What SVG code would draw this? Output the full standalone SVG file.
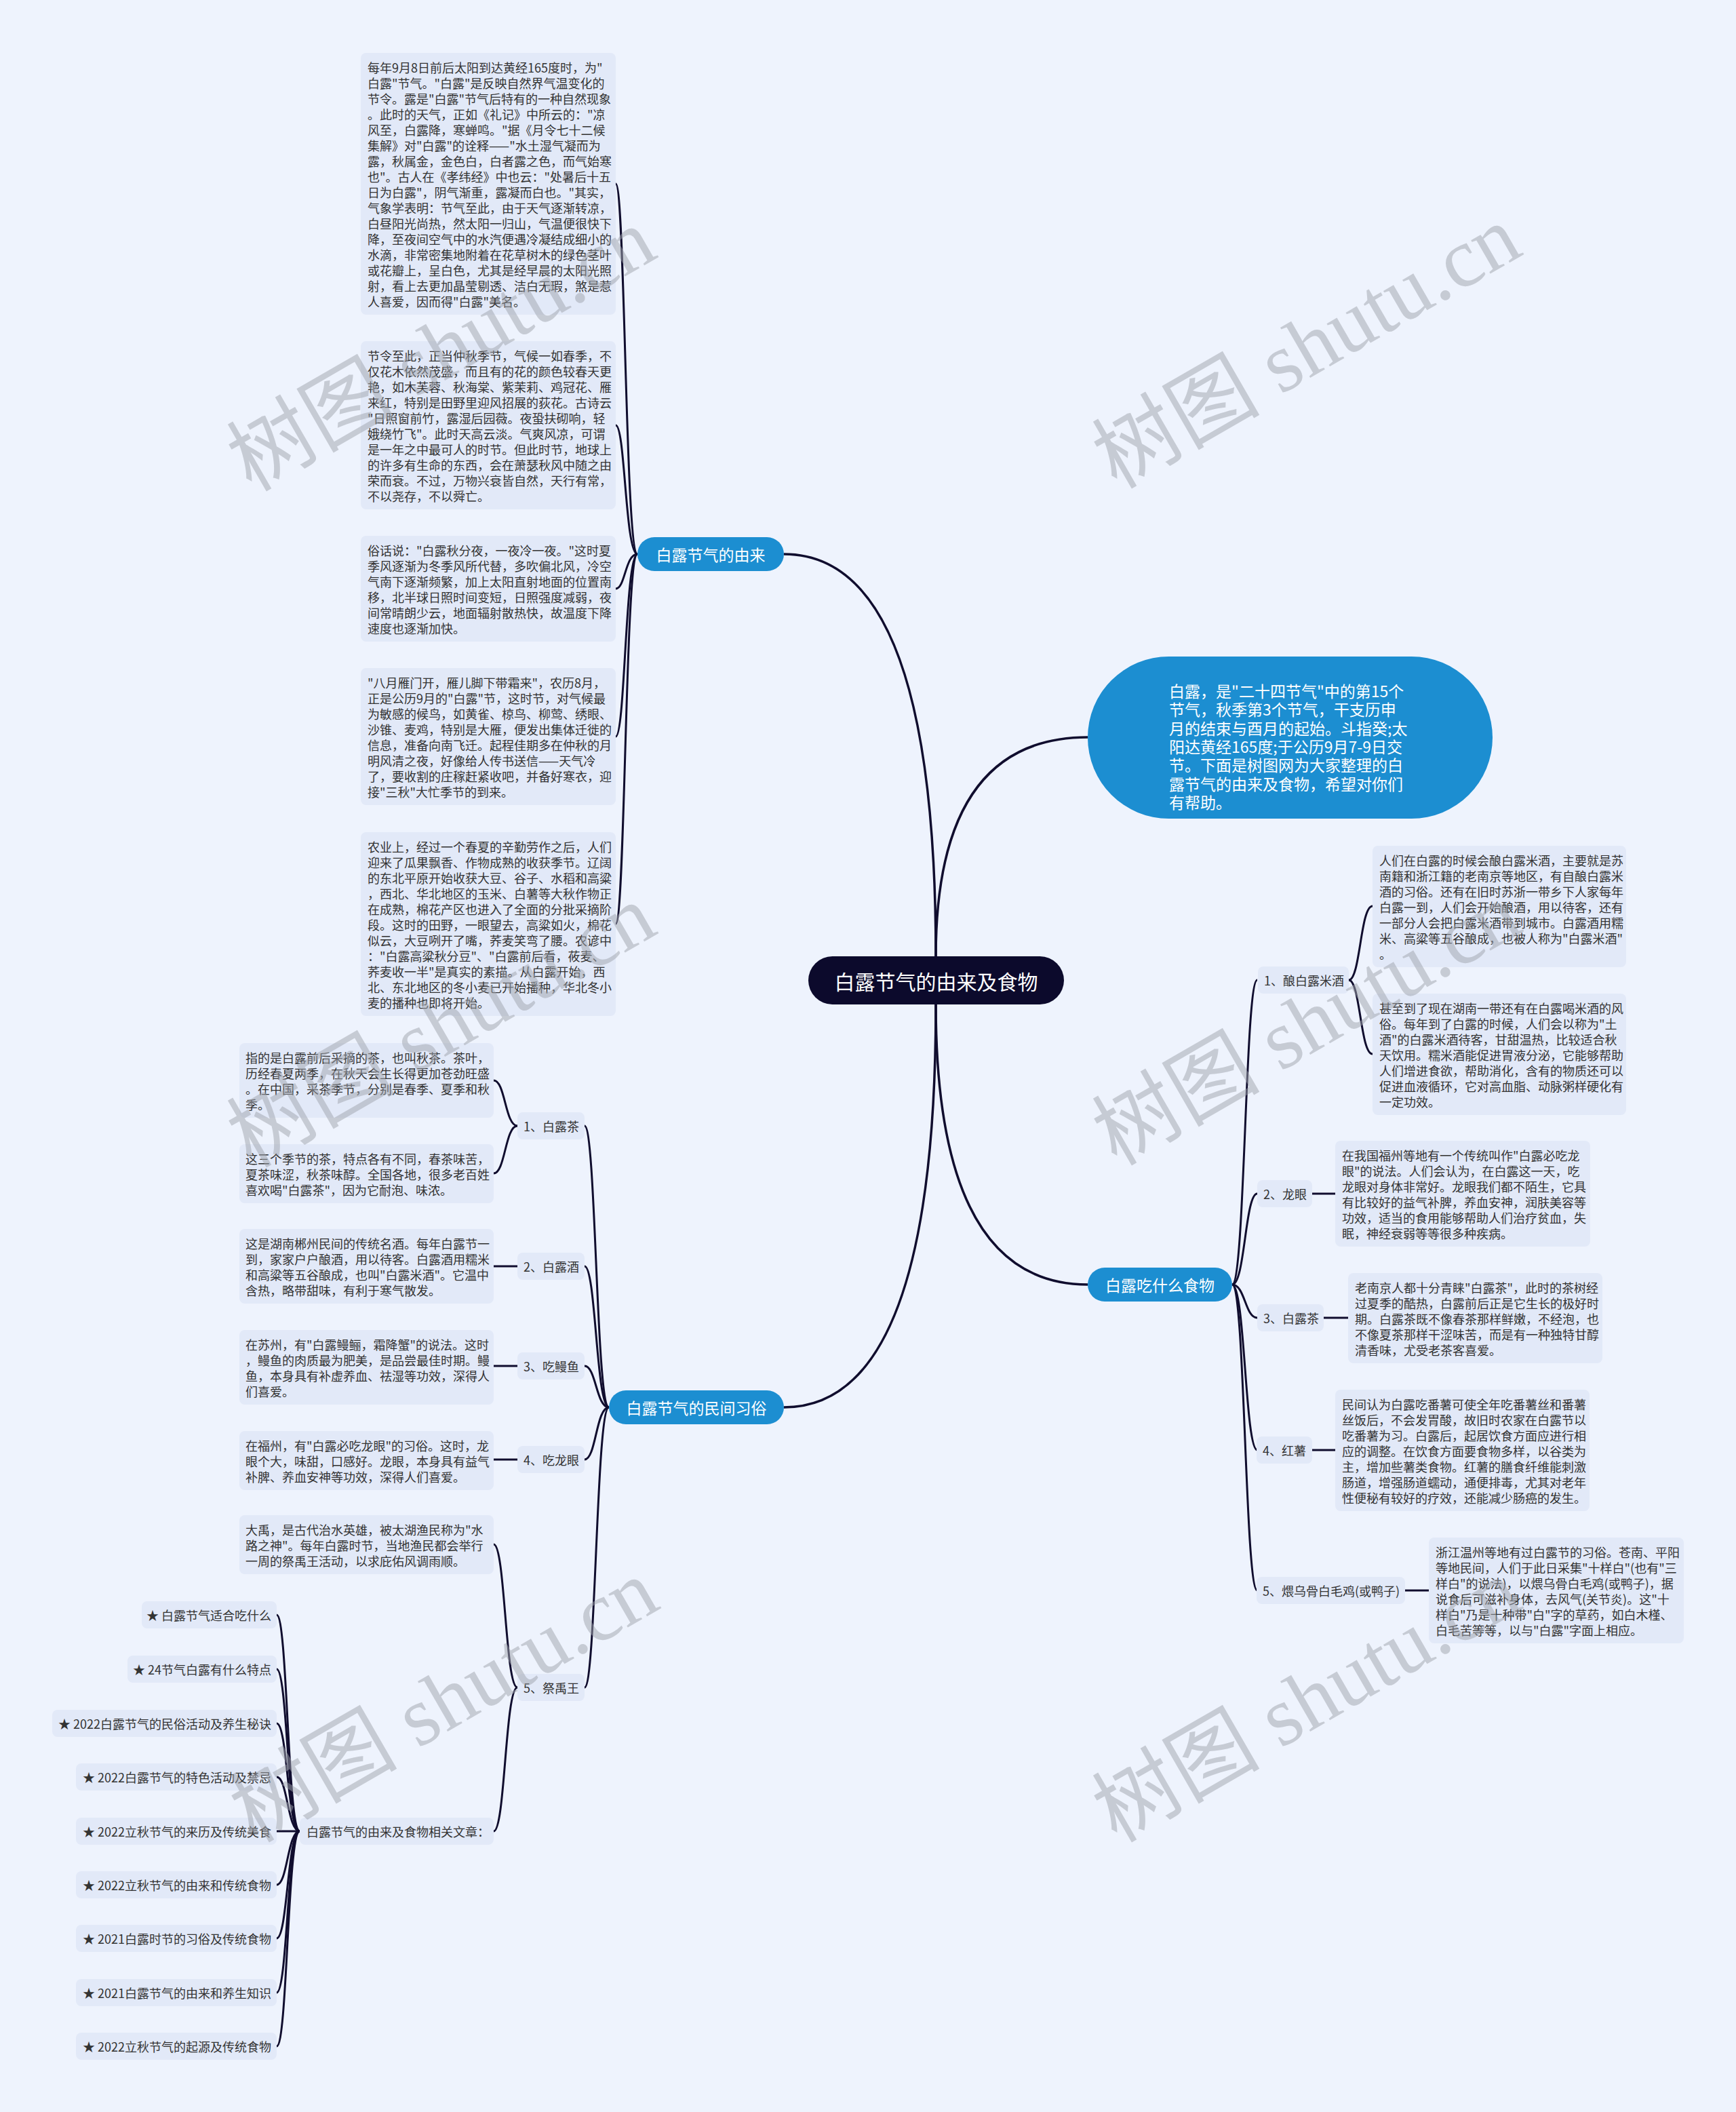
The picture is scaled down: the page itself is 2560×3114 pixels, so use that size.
<svg xmlns="http://www.w3.org/2000/svg" width="2560" height="3114" viewBox="0 0 2560 3114">
<style>
.bg{fill:#EEF3FD}
.bx{fill:#E2E9F8}
.t{font-family:"Noto Sans CJK SC","Noto Sans",sans-serif;font-size:18px;fill:#333;dominant-baseline:central}
.bt{font-family:"Noto Sans CJK SC","Noto Sans",sans-serif;font-size:23px;fill:#fff;dominant-baseline:central}
.rt{font-family:"Noto Sans CJK SC","Noto Sans",sans-serif;font-size:30px;fill:#fff;dominant-baseline:central;text-anchor:middle}
.br{fill:#1C8ED1}
.c{fill:none;stroke:#100D2E;stroke-width:3}
.cm{stroke-width:3.5}
.wm{font-family:"Liberation Serif","Noto Sans CJK SC",serif;font-size:124px;fill:#A0A4AD;opacity:0.5;text-anchor:middle;dominant-baseline:central}
</style>
<rect class="bg" x="0" y="0" width="2560" height="3114"/>

<g id="connectors" class="c">
<path class="cm" d="M1380 1410 Q1380 817 1156 817"/>
<path class="cm" d="M1380 1410 Q1380 1087 1604 1087"/>
<path class="cm" d="M1380 1481 Q1380 1894 1604 1894"/>
<path class="cm" d="M1380 1481 Q1380 2075 1156 2075"/>
<path d="M940 817 C922 817 922 271 908 271"/>
<path d="M940 817 C922 817 922 627 908 627"/>
<path d="M940 817 C922 817 922 868 908 868"/>
<path d="M940 817 C922 817 922 1086 908 1086"/>
<path d="M940 817 C922 817 922 1362 908 1362"/>
<path d="M898 2075 C879 2075 879 1660 862 1660"/>
<path d="M898 2075 C879 2075 879 1867 862 1867"/>
<path d="M898 2075 C879 2075 879 2014 862 2014"/>
<path d="M898 2075 C879 2075 879 2152 862 2152"/>
<path d="M898 2075 C879 2075 879 2488 862 2488"/>
<path d="M763 1660 C745 1660 745 1593 728 1593"/>
<path d="M763 1660 C745 1660 745 1730 728 1730"/>
<path d="M763 1867 H728"/>
<path d="M763 2014 H728"/>
<path d="M763 2152 H728"/>
<path d="M763 2488 C745 2488 745 2277 728 2277"/>
<path d="M763 2488 C745 2488 745 2700 728 2700"/>
<path d="M442 2700 C424 2700 424 2381 408 2381"/>
<path d="M442 2700 C424 2700 424 2461 408 2461"/>
<path d="M442 2700 C424 2700 424 2541 408 2541"/>
<path d="M442 2700 C424 2700 424 2620 408 2620"/>
<path d="M442 2700 H408"/>
<path d="M442 2700 C424 2700 424 2779 408 2779"/>
<path d="M442 2700 C424 2700 424 2858 408 2858"/>
<path d="M442 2700 C424 2700 424 2938 408 2938"/>
<path d="M442 2700 C424 2700 424 3017 408 3017"/>
<path d="M1817 1894 C1836 1894 1836 1445 1854 1445"/>
<path d="M1817 1894 C1836 1894 1836 1760 1854 1760"/>
<path d="M1817 1894 C1836 1894 1836 1943 1854 1943"/>
<path d="M1817 1894 C1836 1894 1836 2138 1854 2138"/>
<path d="M1817 1894 C1836 1894 1836 2345 1854 2345"/>
<path d="M1989 1445 C2006 1445 2006 1336 2024 1336"/>
<path d="M1989 1445 C2006 1445 2006 1554 2024 1554"/>
<path d="M1935 1760 H1969"/>
<path d="M1952 1943 H1988"/>
<path d="M1935 2138 H1969"/>
<path d="M2072 2345 H2107"/>
</g>

<g id="root">
<rect x="1192" y="1410" width="377" height="71" rx="35.5" fill="#0C0A2C"/>
<text class="rt" x="1380.5" y="1445.5">白露节气的由来及食物</text>
</g>

<g id="intro">
<rect class="br" x="1604" y="968" width="597" height="239" rx="119.5"/>
<text class="bt" x="1724" y="1018">白露，是"二十四节气"中的第15个</text>
<text class="bt" x="1724" y="1045">节气，秋季第3个节气，干支历申</text>
<text class="bt" x="1724" y="1073">月的结束与酉月的起始。斗指癸;太</text>
<text class="bt" x="1724" y="1100">阳达黄经165度;于公历9月7-9日交</text>
<text class="bt" x="1724" y="1127">节。下面是树图网为大家整理的白</text>
<text class="bt" x="1724" y="1155">露节气的由来及食物，希望对你们</text>
<text class="bt" x="1724" y="1182">有帮助。</text>
</g>

<g id="branch-origin">
<rect class="br" x="940" y="792" width="216" height="50" rx="25"/>
<text class="bt" x="1048" y="817" text-anchor="middle">白露节气的由来</text>
</g>
<g id="branch-food">
<rect class="br" x="1604" y="1869" width="213" height="50" rx="25"/>
<text class="bt" x="1710.5" y="1894" text-anchor="middle">白露吃什么食物</text>
</g>
<g id="branch-custom">
<rect class="br" x="898" y="2050" width="258" height="50" rx="25"/>
<text class="bt" x="1027" y="2075" text-anchor="middle">白露节气的民间习俗</text>
</g>

<g id="origin-1">
<rect class="bx" x="532" y="78" width="376" height="386" rx="8"/>
<text class="t" x="542" y="99">每年9月8日前后太阳到达黄经165度时，为"</text>
<text class="t" x="542" y="122">白露"节气。"白露"是反映自然界气温变化的</text>
<text class="t" x="542" y="145">节令。露是"白露"节气后特有的一种自然现象</text>
<text class="t" x="542" y="168">。此时的天气，正如《礼记》中所云的："凉</text>
<text class="t" x="542" y="191">风至，白露降，寒蝉鸣。"据《月令七十二候</text>
<text class="t" x="542" y="214">集解》对"白露"的诠释——"水土湿气凝而为</text>
<text class="t" x="542" y="237">露，秋属金，金色白，白者露之色，而气始寒</text>
<text class="t" x="542" y="260">也"。古人在《孝纬经》中也云："处暑后十五</text>
<text class="t" x="542" y="283">日为白露"，阴气渐重，露凝而白也。"其实，</text>
<text class="t" x="542" y="306">气象学表明：节气至此，由于天气逐渐转凉，</text>
<text class="t" x="542" y="329">白昼阳光尚热，然太阳一归山，气温便很快下</text>
<text class="t" x="542" y="352">降，至夜间空气中的水汽便遇冷凝结成细小的</text>
<text class="t" x="542" y="375">水滴，非常密集地附着在花草树木的绿色茎叶</text>
<text class="t" x="542" y="398">或花瓣上，呈白色，尤其是经早晨的太阳光照</text>
<text class="t" x="542" y="421">射，看上去更加晶莹剔透、洁白无瑕，煞是惹</text>
<text class="t" x="542" y="444">人喜爱，因而得"白露"美名。</text>
</g>

<g id="origin-2">
<rect class="bx" x="532" y="503" width="376" height="248" rx="8"/>
<text class="t" x="542" y="524">节令至此，正当仲秋季节，气候一如春季，不</text>
<text class="t" x="542" y="547">仅花木依然茂盛，而且有的花的颜色较春天更</text>
<text class="t" x="542" y="570">艳，如木芙蓉、秋海棠、紫茉莉、鸡冠花、雁</text>
<text class="t" x="542" y="593">来红，特别是田野里迎风招展的荻花。古诗云</text>
<text class="t" x="542" y="616">"日照窗前竹，露湿后园薇。夜蛩扶砌响，轻</text>
<text class="t" x="542" y="639">娥绕竹飞"。此时天高云淡。气爽风凉，可谓</text>
<text class="t" x="542" y="662">是一年之中最可人的时节。但此时节，地球上</text>
<text class="t" x="542" y="685">的许多有生命的东西，会在萧瑟秋风中随之由</text>
<text class="t" x="542" y="708">荣而衰。不过，万物兴衰皆自然，天行有常，</text>
<text class="t" x="542" y="731">不以尧存，不以舜亡。</text>
</g>

<g id="origin-3">
<rect class="bx" x="532" y="790" width="376" height="156" rx="8"/>
<text class="t" x="542" y="811">俗话说："白露秋分夜，一夜冷一夜。"这时夏</text>
<text class="t" x="542" y="834">季风逐渐为冬季风所代替，多吹偏北风，冷空</text>
<text class="t" x="542" y="857">气南下逐渐频繁，加上太阳直射地面的位置南</text>
<text class="t" x="542" y="880">移，北半球日照时间变短，日照强度减弱，夜</text>
<text class="t" x="542" y="903">间常晴朗少云，地面辐射散热快，故温度下降</text>
<text class="t" x="542" y="926">速度也逐渐加快。</text>
</g>

<g id="origin-4">
<rect class="bx" x="532" y="985" width="376" height="202" rx="8"/>
<text class="t" x="542" y="1006">"八月雁门开，雁儿脚下带霜来"，农历8月，</text>
<text class="t" x="542" y="1029">正是公历9月的"白露"节，这时节，对气候最</text>
<text class="t" x="542" y="1052">为敏感的候鸟，如黄雀、椋鸟、柳莺、绣眼、</text>
<text class="t" x="542" y="1075">沙锥、麦鸡，特别是大雁，便发出集体迁徙的</text>
<text class="t" x="542" y="1098">信息，准备向南飞迁。起程佳期多在仲秋的月</text>
<text class="t" x="542" y="1121">明风清之夜，好像给人传书送信——天气冷</text>
<text class="t" x="542" y="1144">了，要收割的庄稼赶紧收吧，并备好寒衣，迎</text>
<text class="t" x="542" y="1167">接"三秋"大忙季节的到来。</text>
</g>

<g id="origin-5">
<rect class="bx" x="532" y="1227" width="376" height="271" rx="8"/>
<text class="t" x="542" y="1248">农业上，经过一个春夏的辛勤劳作之后，人们</text>
<text class="t" x="542" y="1271">迎来了瓜果飘香、作物成熟的收获季节。辽阔</text>
<text class="t" x="542" y="1294">的东北平原开始收获大豆、谷子、水稻和高粱</text>
<text class="t" x="542" y="1317">，西北、华北地区的玉米、白薯等大秋作物正</text>
<text class="t" x="542" y="1340">在成熟，棉花产区也进入了全面的分批采摘阶</text>
<text class="t" x="542" y="1363">段。这时的田野，一眼望去，高粱如火，棉花</text>
<text class="t" x="542" y="1386">似云，大豆咧开了嘴，荞麦笑弯了腰。农谚中</text>
<text class="t" x="542" y="1409">："白露高粱秋分豆"、"白露前后看，莜麦、</text>
<text class="t" x="542" y="1432">荞麦收一半"是真实的素描。从白露开始，西</text>
<text class="t" x="542" y="1455">北、东北地区的冬小麦已开始播种，华北冬小</text>
<text class="t" x="542" y="1478">麦的播种也即将开始。</text>
</g>

<g id="custom-1">
<rect class="bx" x="763" y="1640" width="99" height="40" rx="8"/>
<text class="t" x="772" y="1660">1、白露茶</text>
</g>
<g id="custom-1a">
<rect class="bx" x="353" y="1538" width="375" height="110" rx="8"/>
<text class="t" x="362" y="1559">指的是白露前后采摘的茶，也叫秋茶。茶叶，</text>
<text class="t" x="362" y="1582">历经春夏两季，在秋天会生长得更加苍劲旺盛</text>
<text class="t" x="362" y="1605">。在中国，采茶季节，分别是春季、夏季和秋</text>
<text class="t" x="362" y="1628">季。</text>
</g>
<g id="custom-1b">
<rect class="bx" x="353" y="1687" width="375" height="87" rx="8"/>
<text class="t" x="362" y="1708">这三个季节的茶，特点各有不同，春茶味苦，</text>
<text class="t" x="362" y="1731">夏茶味涩，秋茶味醇。全国各地，很多老百姓</text>
<text class="t" x="362" y="1754">喜欢喝"白露茶"，因为它耐泡、味浓。</text>
</g>

<g id="custom-2">
<rect class="bx" x="763" y="1847" width="99" height="40" rx="8"/>
<text class="t" x="772" y="1867">2、白露酒</text>
</g>
<g id="custom-2a">
<rect class="bx" x="353" y="1812" width="375" height="110" rx="8"/>
<text class="t" x="362" y="1833">这是湖南郴州民间的传统名酒。每年白露节一</text>
<text class="t" x="362" y="1856">到，家家户户酿酒，用以待客。白露酒用糯米</text>
<text class="t" x="362" y="1879">和高粱等五谷酿成，也叫"白露米酒"。它温中</text>
<text class="t" x="362" y="1902">含热，略带甜味，有利于寒气散发。</text>
</g>

<g id="custom-3">
<rect class="bx" x="763" y="1994" width="99" height="40" rx="8"/>
<text class="t" x="772" y="2014">3、吃鳗鱼</text>
</g>
<g id="custom-3a">
<rect class="bx" x="353" y="1961" width="375" height="110" rx="8"/>
<text class="t" x="362" y="1982">在苏州，有"白露鳗鲡，霜降蟹"的说法。这时</text>
<text class="t" x="362" y="2005">，鳗鱼的肉质最为肥美，是品尝最佳时期。鳗</text>
<text class="t" x="362" y="2028">鱼，本身具有补虚养血、祛湿等功效，深得人</text>
<text class="t" x="362" y="2051">们喜爱。</text>
</g>

<g id="custom-4">
<rect class="bx" x="763" y="2132" width="99" height="40" rx="8"/>
<text class="t" x="772" y="2152">4、吃龙眼</text>
</g>
<g id="custom-4a">
<rect class="bx" x="353" y="2110" width="375" height="87" rx="8"/>
<text class="t" x="362" y="2131">在福州，有"白露必吃龙眼"的习俗。这时，龙</text>
<text class="t" x="362" y="2154">眼个大，味甜，口感好。龙眼，本身具有益气</text>
<text class="t" x="362" y="2177">补脾、养血安神等功效，深得人们喜爱。</text>
</g>

<g id="custom-5">
<rect class="bx" x="763" y="2468" width="99" height="40" rx="8"/>
<text class="t" x="772" y="2488">5、祭禹王</text>
</g>
<g id="custom-5a">
<rect class="bx" x="353" y="2234" width="375" height="87" rx="8"/>
<text class="t" x="362" y="2255">大禹，是古代治水英雄，被太湖渔民称为"水</text>
<text class="t" x="362" y="2278">路之神"。每年白露时节，当地渔民都会举行</text>
<text class="t" x="362" y="2301">一周的祭禹王活动，以求庇佑风调雨顺。</text>
</g>
<g id="related">
<rect class="bx" x="442" y="2680" width="286" height="40" rx="8"/>
<text class="t" x="452" y="2700">白露节气的由来及食物相关文章：</text>
</g>

<g id="link-1"><rect class="bx" x="209" y="2361" width="199" height="40" rx="8"/><text class="t" x="400" y="2381" text-anchor="end">★ 白露节气适合吃什么</text></g>
<g id="link-2"><rect class="bx" x="188" y="2441" width="220" height="40" rx="8"/><text class="t" x="400" y="2461" text-anchor="end">★ 24节气白露有什么特点</text></g>
<g id="link-3"><rect class="bx" x="77" y="2521" width="331" height="40" rx="8"/><text class="t" x="400" y="2541" text-anchor="end">★ 2022白露节气的民俗活动及养生秘诀</text></g>
<g id="link-4"><rect class="bx" x="112" y="2600" width="296" height="40" rx="8"/><text class="t" x="400" y="2620" text-anchor="end">★ 2022白露节气的特色活动及禁忌</text></g>
<g id="link-5"><rect class="bx" x="112" y="2680" width="296" height="40" rx="8"/><text class="t" x="400" y="2700" text-anchor="end">★ 2022立秋节气的来历及传统美食</text></g>
<g id="link-6"><rect class="bx" x="112" y="2759" width="296" height="40" rx="8"/><text class="t" x="400" y="2779" text-anchor="end">★ 2022立秋节气的由来和传统食物</text></g>
<g id="link-7"><rect class="bx" x="112" y="2838" width="296" height="40" rx="8"/><text class="t" x="400" y="2858" text-anchor="end">★ 2021白露时节的习俗及传统食物</text></g>
<g id="link-8"><rect class="bx" x="112" y="2918" width="296" height="40" rx="8"/><text class="t" x="400" y="2938" text-anchor="end">★ 2021白露节气的由来和养生知识</text></g>
<g id="link-9"><rect class="bx" x="112" y="2997" width="296" height="40" rx="8"/><text class="t" x="400" y="3017" text-anchor="end">★ 2022立秋节气的起源及传统食物</text></g>

<g id="food-1">
<rect class="bx" x="1855" y="1425" width="134" height="40" rx="8"/>
<text class="t" x="1864" y="1445">1、酿白露米酒</text>
</g>
<g id="food-1a">
<rect class="bx" x="2024" y="1247" width="374" height="179" rx="8"/>
<text class="t" x="2034" y="1268">人们在白露的时候会酿白露米酒，主要就是苏</text>
<text class="t" x="2034" y="1291">南籍和浙江籍的老南京等地区，有自酿白露米</text>
<text class="t" x="2034" y="1314">酒的习俗。还有在旧时苏浙一带乡下人家每年</text>
<text class="t" x="2034" y="1337">白露一到，人们会开始酿酒，用以待客，还有</text>
<text class="t" x="2034" y="1360">一部分人会把白露米酒带到城市。白露酒用糯</text>
<text class="t" x="2034" y="1383">米、高粱等五谷酿成，也被人称为"白露米酒"</text>
<text class="t" x="2034" y="1406">。</text>
</g>
<g id="food-1b">
<rect class="bx" x="2024" y="1465" width="374" height="179" rx="8"/>
<text class="t" x="2034" y="1486">甚至到了现在湖南一带还有在白露喝米酒的风</text>
<text class="t" x="2034" y="1509">俗。每年到了白露的时候，人们会以称为"土</text>
<text class="t" x="2034" y="1532">酒"的白露米酒待客，甘甜温热，比较适合秋</text>
<text class="t" x="2034" y="1555">天饮用。糯米酒能促进胃液分泌，它能够帮助</text>
<text class="t" x="2034" y="1578">人们增进食欲，帮助消化，含有的物质还可以</text>
<text class="t" x="2034" y="1601">促进血液循环，它对高血脂、动脉粥样硬化有</text>
<text class="t" x="2034" y="1624">一定功效。</text>
</g>

<g id="food-2">
<rect class="bx" x="1854" y="1740" width="81" height="40" rx="8"/>
<text class="t" x="1863" y="1760">2、龙眼</text>
</g>
<g id="food-2a">
<rect class="bx" x="1969" y="1682" width="376" height="156" rx="8"/>
<text class="t" x="1979" y="1703">在我国福州等地有一个传统叫作"白露必吃龙</text>
<text class="t" x="1979" y="1726">眼"的说法。人们会认为，在白露这一天，吃</text>
<text class="t" x="1979" y="1749">龙眼对身体非常好。龙眼我们都不陌生，它具</text>
<text class="t" x="1979" y="1772">有比较好的益气补脾，养血安神，润肤美容等</text>
<text class="t" x="1979" y="1795">功效，适当的食用能够帮助人们治疗贫血，失</text>
<text class="t" x="1979" y="1818">眠，神经衰弱等等很多种疾病。</text>
</g>

<g id="food-3">
<rect class="bx" x="1854" y="1923" width="98" height="40" rx="8"/>
<text class="t" x="1863" y="1943">3、白露茶</text>
</g>
<g id="food-3a">
<rect class="bx" x="1988" y="1877" width="375" height="133" rx="8"/>
<text class="t" x="1998" y="1898">老南京人都十分青睐"白露茶"，此时的茶树经</text>
<text class="t" x="1998" y="1921">过夏季的酷热，白露前后正是它生长的极好时</text>
<text class="t" x="1998" y="1944">期。白露茶既不像春茶那样鲜嫩，不经泡，也</text>
<text class="t" x="1998" y="1967">不像夏茶那样干涩味苦，而是有一种独特甘醇</text>
<text class="t" x="1998" y="1990">清香味，尤受老茶客喜爱。</text>
</g>

<g id="food-4">
<rect class="bx" x="1853" y="2118" width="82" height="40" rx="8"/>
<text class="t" x="1862" y="2138">4、红薯</text>
</g>
<g id="food-4a">
<rect class="bx" x="1969" y="2049" width="375" height="179" rx="8"/>
<text class="t" x="1979" y="2070">民间认为白露吃番薯可使全年吃番薯丝和番薯</text>
<text class="t" x="1979" y="2093">丝饭后，不会发胃酸，故旧时农家在白露节以</text>
<text class="t" x="1979" y="2116">吃番薯为习。白露后，起居饮食方面应进行相</text>
<text class="t" x="1979" y="2139">应的调整。在饮食方面要食物多样，以谷类为</text>
<text class="t" x="1979" y="2162">主，增加些薯类食物。红薯的膳食纤维能刺激</text>
<text class="t" x="1979" y="2185">肠道，增强肠道蠕动，通便排毒，尤其对老年</text>
<text class="t" x="1979" y="2208">性便秘有较好的疗效，还能减少肠癌的发生。</text>
</g>

<g id="food-5">
<rect class="bx" x="1853" y="2325" width="219" height="40" rx="8"/>
<text class="t" x="1862" y="2345">5、煨乌骨白毛鸡(或鸭子)</text>
</g>
<g id="food-5a">
<rect class="bx" x="2107" y="2267" width="376" height="156" rx="8"/>
<text class="t" x="2117" y="2288">浙江温州等地有过白露节的习俗。苍南、平阳</text>
<text class="t" x="2117" y="2311">等地民间，人们于此日采集"十样白"(也有"三</text>
<text class="t" x="2117" y="2334">样白"的说法)，以煨乌骨白毛鸡(或鸭子)，据</text>
<text class="t" x="2117" y="2357">说食后可滋补身体，去风气(关节炎)。这"十</text>
<text class="t" x="2117" y="2380">样白"乃是十种带"白"字的草药，如白木槿、</text>
<text class="t" x="2117" y="2403">白毛苦等等，以与"白露"字面上相应。</text>
</g>

<g id="watermarks">
<text class="wm" transform="translate(651 516) rotate(-30)">树图 shutu.cn</text>
<text class="wm" transform="translate(1927 512) rotate(-30)">树图 shutu.cn</text>
<text class="wm" transform="translate(651 1513) rotate(-30)">树图 shutu.cn</text>
<text class="wm" transform="translate(1927 1510) rotate(-30)">树图 shutu.cn</text>
<text class="wm" transform="translate(655 2508) rotate(-30)">树图 shutu.cn</text>
<text class="wm" transform="translate(1927 2508) rotate(-30)">树图 shutu.cn</text>
</g>
</svg>
